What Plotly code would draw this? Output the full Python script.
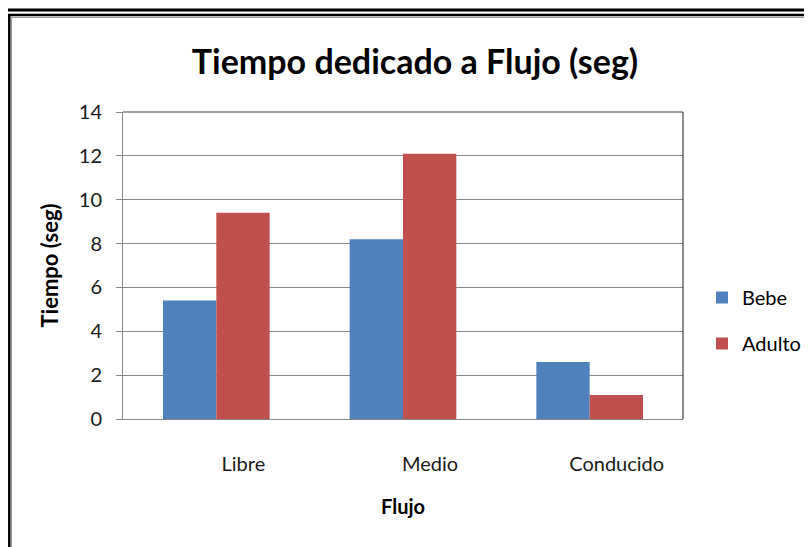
import plotly.graph_objects as go

categories = ["Libre", "Medio", "Conducido"]
bebe = [5.4, 8.2, 2.6]
adulto = [9.4, 12.1, 1.1]
y_ticks = [0, 2, 4, 6, 8, 10, 12, 14]

# page is drawn with an 8px body margin; work in page pixels and convert
OFF = 8
PW, PH = 812, 547
W, H = PW - OFF, PH - OFF
PL, PR, PT, PB = 123, 683, 112, 419
L, R, T, B = PL - OFF, PR - OFF, PT - OFF, PB - OFF

FONT = "Lato, 'Open Sans', sans-serif"

fig = go.Figure()
fig.add_trace(go.Bar(name="Bebe", x=categories, y=bebe, legendgroup="g1",
                     marker=dict(color="#4F81BD", line=dict(width=0))))
fig.add_trace(go.Bar(name="Adulto", x=categories, y=adulto, legendgroup="g2",
                     marker=dict(color="#C0504D", line=dict(width=0))))

def px(x):
    return (x - PL) / (PR - PL)

def py(y):
    return (PB - y) / (PB - PT)

shapes = [
    dict(type="line", xref="paper", yref="paper", x0=px(0), x1=px(PW + 10), y0=py(10), y1=py(10),
         line=dict(color="black", width=3)),
    dict(type="line", xref="paper", yref="paper", x0=px(8), x1=px(PW + 10), y0=py(15), y1=py(15),
         line=dict(color="black", width=2.5)),
    dict(type="line", xref="paper", yref="paper", x0=px(9.3), x1=px(9.3), y0=py(14), y1=py(PH + 10),
         line=dict(color="black", width=2.5)),
    dict(type="line", xref="paper", yref="paper", x0=px(11.5), x1=px(PW + 10), y0=py(17.5), y1=py(17.5),
         line=dict(color="#999999", width=1)),
    dict(type="line", xref="paper", yref="paper", x0=px(11.5), x1=px(11.5), y0=py(17), y1=py(PH + 10),
         line=dict(color="#999999", width=1)),
    dict(type="line", xref="paper", yref="paper", x0=1, x1=1, y0=0, y1=1,
         line=dict(color="#404040", width=1.2)),
    dict(type="line", xref="paper", yref="paper", x0=0, x1=1, y0=1, y1=1,
         line=dict(color="#404040", width=1)),
]

fig.update_layout(
    width=W, height=H,
    margin=dict(l=L, r=W - R, t=T, b=H - B, pad=0, autoexpand=False),
    paper_bgcolor="white", plot_bgcolor="white",
    barmode="group", bargap=0.4286, bargroupgap=0,
    font=dict(family=FONT, color="black"),
    title=dict(text="<b>Tiempo dedicado a Flujo (seg)</b>", x=px(415), xref="paper", xanchor="center",
               y=1 - (62 - OFF) / H, yanchor="middle",
               font=dict(family=FONT, size=34, color="black")),
    showlegend=True,
    legend=dict(x=px(702), y=py(278), xanchor="left", yanchor="top",
                font=dict(family=FONT, size=20, color="black"),
                itemsizing="constant", tracegroupgap=17, bgcolor="rgba(0,0,0,0)",
                itemwidth=30),
    shapes=shapes,
)

fig.update_xaxes(
    showline=True, linecolor="#868686", linewidth=1,
    ticks="", showgrid=False,
    tickfont=dict(family=FONT, size=20, color="#1a1a1a"),
    ticklabelstandoff=27, ticklabelshift=27,
    title=dict(text="<b>Flujo</b>", font=dict(family=FONT, size=20, color="black"), standoff=25),
)
fig.update_yaxes(
    range=[0, 14], tickvals=y_ticks, ticktext=[str(v) for v in y_ticks],
    showline=True, linecolor="#868686", linewidth=1,
    ticks="outside", ticklen=6, tickcolor="#868686",
    showgrid=True, gridcolor="#868686", gridwidth=1,
    zeroline=False,
    tickfont=dict(family=FONT, size=20, color="#1a1a1a"),
    ticklabelstandoff=10,
    title=dict(text="<b>Tiempo (seg)</b>", font=dict(family=FONT, size=22, color="black"), standoff=14),
)

fig.write_html("out.html")
